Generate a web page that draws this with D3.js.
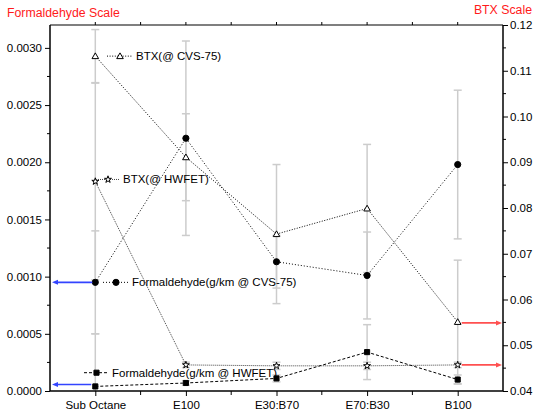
<!DOCTYPE html>
<html>
<head>
<meta charset="utf-8">
<script src="https://cdn.jsdelivr.net/npm/d3@7/dist/d3.min.js"></script>
<style>
  html, body { margin: 0; padding: 0; background: #fff; }
  svg { display: block; font-family: "Liberation Sans", Arial, sans-serif; }
</style>
</head>
<body>
<svg id="chart" width="535" height="412"></svg>
<script>
// Fuel blends on the x axis
const categories = ["Sub Octane", "E100", "E30:B70", "E70:B30", "B100"];

// Formaldehyde emissions, g/km (left scale)
const formCvs = [0.00095, 0.00221, 0.00113, 0.00101, 0.00198];
const formCvsErr = [0.00045, 0.00085, 0.00023, 0.00038, 0.00065];
const formHw = [0.00004, 0.00007, 0.00011, 0.00034, 0.00010];
const formHwErr = [0.00046, 0.00002, 0.00003, 0.00024, 0.00004];

// BTX emissions (right scale)
const btxCvs = [0.1132, 0.0911, 0.0743, 0.0799, 0.0551];
const btxCvsErr = [0.0058, 0.0095, 0.0152, 0.0140, 0.0135];
const btxHw = [0.0858, 0.0457, 0.0455, 0.0455, 0.0457];
const btxHwErr = [0.0215, 0.0006, 0.0008, 0.0008, 0.0006];

// Axis ticks
const leftTicks = [0, 0.0005, 0.0010, 0.0015, 0.0020, 0.0025, 0.0030];
const rightTicks = [0.04, 0.05, 0.06, 0.07, 0.08, 0.09, 0.10, 0.11, 0.12];

const svg = d3.select("#chart");
const L = 50, R = 503, T = 25, B = 391;

const x = d3.scalePoint().domain(categories).range([L, R]).padding(0.5);
const yL = d3.scaleLinear().domain([0, 0.0032]).range([B, T]);
const yR = d3.scaleLinear().domain([0.04, 0.12]).range([B, T]);

svg.append("defs").append("clipPath").attr("id", "plot")
  .append("rect").attr("x", L).attr("y", T).attr("width", R - L).attr("height", B - T);

const series = [
  { name: "BTX(@ CVS-75)", vals: btxCvs, err: btxCvsErr, y: yR, marker: "triangle", dash: "1,1.6", color: "#000" },
  { name: "BTX(@ HWFET)", vals: btxHw, err: btxHwErr, y: yR, marker: "star", dash: "1,1", color: "#444" },
  { name: "Formaldehyde(g/km @ CVS-75)", vals: formCvs, err: formCvsErr, y: yL, marker: "circle", dash: "1,2", color: "#000" },
  { name: "Formaldehyde(g/km @ HWFET)", vals: formHw, err: formHwErr, y: yL, marker: "square", dash: "3,2", color: "#000" }
];

// Error bars
const eb = svg.append("g").attr("clip-path", "url(#plot)")
  .attr("stroke", "#cccccc").attr("stroke-width", 1.5).attr("fill", "none");
series.forEach(s => {
  categories.forEach((c, i) => {
    const cx = x(c);
    const y1 = s.y(s.vals[i] + s.err[i]);
    const y2 = s.y(s.vals[i] - s.err[i]);
    eb.append("line").attr("x1", cx).attr("x2", cx).attr("y1", y1).attr("y2", y2);
    [y1, y2].forEach(yy => eb.append("line")
      .attr("x1", cx - 4).attr("x2", cx + 4).attr("y1", yy).attr("y2", yy));
  });
});

// Series lines
series.forEach(s => {
  const line = d3.line().x((d, i) => x(categories[i])).y(d => s.y(d));
  svg.append("path").datum(s.vals).attr("d", line)
    .attr("fill", "none").attr("stroke", s.color).attr("stroke-width", 1)
    .attr("stroke-dasharray", s.dash);
});

// Marker shapes
const symbols = {
  triangle: d3.symbol().type(d3.symbolTriangle).size(19),
  star: d3.symbol().type(d3.symbolStar).size(15),
  circle: d3.symbol().type(d3.symbolCircle).size(30),
  square: d3.symbol().type(d3.symbolSquare).size(26)
};
function drawMarker(g, kind, cx, cy) {
  const filled = kind === "circle" || kind === "square";
  g.append("path").attr("d", symbols[kind]())
    .attr("transform", `translate(${cx},${cy + (kind === "triangle" ? 0.6 : 0)})`)
    .attr("fill", filled ? "#000" : "#fff")
    .attr("stroke", "#000").attr("stroke-width", 1);
}
const mk = svg.append("g");
series.forEach(s => {
  categories.forEach((c, i) => drawMarker(mk, s.marker, x(c), s.y(s.vals[i])));
});

// Axes frame
const axisColor = "#000";
svg.append("line").attr("x1", L).attr("x2", R).attr("y1", T).attr("y2", T).attr("stroke", axisColor).attr("stroke-width", 1.2);
svg.append("line").attr("x1", L).attr("x2", R).attr("y1", B).attr("y2", B).attr("stroke", axisColor).attr("stroke-width", 1.5);
svg.append("line").attr("x1", L).attr("x2", L).attr("y1", T).attr("y2", B).attr("stroke", axisColor).attr("stroke-width", 1.5);
svg.append("line").attr("x1", R).attr("x2", R).attr("y1", T).attr("y2", B).attr("stroke", axisColor).attr("stroke-width", 1.5);

const fontSize = "11.5px";

// Left axis
const leftAxis = svg.append("g").attr("transform", `translate(${L},0)`)
  .call(d3.axisLeft(yL).tickValues(leftTicks).tickFormat(d3.format(".4f")).tickSize(5).tickPadding(3));
leftAxis.select(".domain").remove();
leftAxis.selectAll("text").attr("font-size", fontSize).attr("font-family", "Liberation Sans, Arial, sans-serif").attr("fill", "#000");
const leftMinor = d3.range(0.00025, 0.0032, 0.0005);
svg.append("g").selectAll("line").data(leftMinor).join("line")
  .attr("x1", L - 3).attr("x2", L).attr("y1", d => yL(d)).attr("y2", d => yL(d)).attr("stroke", "#000");

// Right axis
const rightAxis = svg.append("g").attr("transform", `translate(${R},0)`)
  .call(d3.axisRight(yR).tickValues(rightTicks).tickFormat(d3.format(".2f")).tickSize(5).tickPadding(2));
rightAxis.select(".domain").remove();
rightAxis.selectAll("text").attr("font-size", fontSize).attr("font-family", "Liberation Sans, Arial, sans-serif").attr("fill", "#000");
const rightMinor = d3.range(0.045, 0.12, 0.01);
svg.append("g").selectAll("line").data(rightMinor).join("line")
  .attr("x1", R).attr("x2", R + 3).attr("y1", d => yR(d)).attr("y2", d => yR(d)).attr("stroke", "#000");

// Bottom axis with category labels
const bottomAxis = svg.append("g").attr("transform", `translate(0,${B})`)
  .call(d3.axisBottom(x).tickSize(5).tickPadding(5));
bottomAxis.select(".domain").remove();
bottomAxis.selectAll("text").attr("font-size", fontSize).attr("font-family", "Liberation Sans, Arial, sans-serif").attr("fill", "#000");
const step = x.step();
const mids = categories.slice(0, -1).map(c => x(c) + step / 2);
svg.append("g").selectAll("line").data(mids).join("line")
  .attr("x1", d => d).attr("x2", d => d).attr("y1", B).attr("y2", B + 4).attr("stroke", "#000");

// Top axis ticks
const topTicks = categories.map(c => x(c)).concat(mids);
svg.append("g").selectAll("line").data(topTicks).join("line")
  .attr("x1", d => d).attr("x2", d => d).attr("y1", T).attr("y2", T - 3).attr("stroke", "#000");

// Scale arrows: formaldehyde to the left axis, BTX to the right axis
function arrow(x1, x2, yy, color) {
  const dir = Math.sign(x2 - x1);
  svg.append("line").attr("x1", x1).attr("x2", x2 - dir * 4).attr("y1", yy).attr("y2", yy)
    .attr("stroke", color).attr("stroke-width", 1.6);
  svg.append("path")
    .attr("d", `M${x2},${yy} L${x2 - dir * 6},${yy - 2.5} L${x2 - dir * 6},${yy + 2.5} Z`)
    .attr("fill", color);
}
arrow(x(categories[0]) - 3, L + 2, yL(formCvs[0]), "#3344ff");
arrow(x(categories[0]) - 4, L + 2, yL(formHw[0]) - 2, "#3344ff");
const last = categories.length - 1;
arrow(x(categories[last]) + 4, R - 1, yR(btxCvs[last]) + 1, "#ff5050");
arrow(x(categories[last]) + 4, R - 1, yR(btxHw[last]), "#ff5050");

// In-plot legend entries placed next to their first point
const legendPos = [
  { x1: 107, x2: 133, yv: btxCvs[0], y: yR },
  { x1: 96, x2: 120, yv: btxHw[0], y: yR, dy: -2 },
  { x1: 103, x2: 129, yv: formCvs[0], y: yL },
  { x1: 84, x2: 109, yv: formHw[0] + 0.00012, y: yL }
];
const lg = svg.append("g");
series.forEach((s, i) => {
  const p = legendPos[i];
  const ly = p.y(p.yv) + (p.dy || 0);
  lg.append("line").attr("x1", p.x1).attr("x2", p.x2).attr("y1", ly).attr("y2", ly)
    .attr("stroke", s.color).attr("stroke-width", 1).attr("stroke-dasharray", s.dash);
  drawMarker(lg, s.marker, (p.x1 + p.x2) / 2, ly);
  lg.append("text").attr("x", p.x2 + 3).attr("y", ly).attr("dy", "0.35em")
    .attr("font-size", fontSize).attr("fill", "#000").text(s.name);
});

// Scale titles
svg.append("text").attr("x", 7).attr("y", 17).attr("font-size", "12.3px").attr("fill", "#ff1a1a").text("Formaldehyde Scale");
svg.append("text").attr("x", 532).attr("y", 14).attr("text-anchor", "end").attr("font-size", "12.3px").attr("fill", "#ff1a1a").text("BTX Scale");
</script>
</body>
</html>
